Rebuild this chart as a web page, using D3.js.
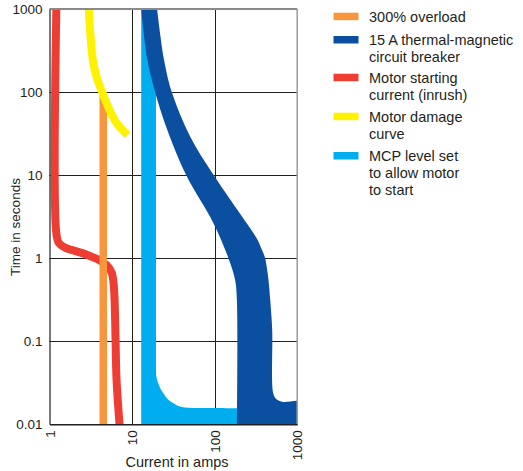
<!DOCTYPE html>
<html>
<head>
<meta charset="utf-8">
<script src="https://cdn.jsdelivr.net/npm/d3@7"></script>
<style>
  html, body { margin: 0; padding: 0; background: #fff; }
  svg { display: block; }
  text { font-family: "Liberation Sans", Arial, Helvetica, sans-serif; fill: #231f20; }
</style>
</head>
<body>
<svg id="chart" width="523" height="471"></svg>
<script>
// ---------- DATA ----------
const currentTicks = [1, 10, 100, 1000];
const currentTickLabels = ["1", "10", "100", "1000"];
const timeTicks = [0.01, 0.1, 1, 10, 100, 1000];
const timeTickLabels = ["0.01", "0.1", "1", "10", "100", "1000"];

const seriesNames = [
  ["300% overload"],
  ["15 A thermal-magnetic", "circuit breaker"],
  ["Motor starting", "current (inrush)"],
  ["Motor damage", "curve"],
  ["MCP level set", "to allow motor", "to start"]
];
const seriesColors = ["#F7963C", "#0B4FA0", "#EE3E33", "#FFF200", "#00AEEF"];

// 300% overload (vertical line)
const overloadCurrent = [4.48, 4.48];
const overloadTime = [100, 0.01];

// 15 A thermal-magnetic breaker band: lower-current edge (top to bottom)
const breakerLowCurrent = [12.9, 15.3, 19.0, 25.8, 45.2, 96.7, 147, 177, 186, 186];
const breakerLowTime    = [1000, 245, 100, 38.5, 10, 2.64, 1, 0.548, 0.315, 0.01];
// higher-current edge (top to bottom)
const breakerHighCurrent = [20.1, 24.4, 30.3, 50.5, 96.7, 245, 289, 332, 374, 409, 433, 449, 471, 498, 512, 556, 676, 1100, 1100];
const breakerHighTime    = [1000, 245, 100, 29.2, 10.1, 2.64, 2.07, 1.66, 1.26, 1, 0.722, 0.548, 0.315, 0.137, 0.0238, 0.0202, 0.0186, 0.0186, 0.01];

// Motor starting current (inrush)
const inrushCurrent = [1.21, 1.21, 1.30, 1.59, 1.90, 2.51, 3.32, 4.04, 4.91, 5.64, 5.97, 6.14, 6.31, 6.49, 7.05];
const inrushTime    = [1000, 2.0, 1.52, 1.32, 1.25, 1.15, 1.03, 0.946, 0.824, 0.678, 0.5, 0.312, 0.103, 0.034, 0.01];

// Motor damage curve
const damageCurrent = [2.99, 3.12, 3.35, 3.71, 4.39, 5.34, 6.49, 8.82];
const damageTime    = [1000, 514, 243, 152, 97, 60.7, 42.4, 30.3];

// MCP level band (time, low current, high current)
const mcpTime = [1000, 0.0415, 0.0315, 0.0238, 0.0181, 0.0162, 0.0157, 0.0156, 0.01];
const mcpLow  = [12.9, 12.9, 12.9, 12.9, 12.9, 12.9, 12.9, 12.9, 12.9];
const mcpHigh = [19.5, 19.5, 20.7, 23.8, 31.4, 40.4, 58, 250, 250];

// ---------- LAYOUT ----------
const svg = d3.select("#chart");
const pLeft = 49.5, pRight = 297.2, pTop = 9, pBottom = 424.3;

const x = d3.scaleLog().domain([1, 1000]).range([pLeft, pRight]);
const y = d3.scaleLog().domain([0.01, 1000]).range([pBottom, pTop]);

svg.append("rect").attr("width", 523).attr("height", 471).attr("fill", "#fff");

svg.append("defs").append("clipPath").attr("id", "plotclip")
  .append("rect").attr("x", pLeft).attr("y", pTop).attr("width", pRight - pLeft).attr("height", pBottom - pTop);

// gridlines
const grid = svg.append("g");
grid.selectAll("line.h").data(timeTicks.filter(t => t > 0.01 && t < 1000)).join("line")
  .attr("x1", pLeft).attr("x2", pRight)
  .attr("y1", d => Math.round(y(d)) + 0.5).attr("y2", d => Math.round(y(d)) + 0.5)
  .attr("stroke", "#231f20").attr("stroke-width", 1);
grid.selectAll("line.v").data(currentTicks.filter(t => t > 1 && t < 1000)).join("line")
  .attr("y1", pTop).attr("y2", pBottom)
  .attr("x1", d => Math.round(x(d)) + 0.5).attr("x2", d => Math.round(x(d)) + 0.5)
  .attr("stroke", "#231f20").attr("stroke-width", 1);

const plot = svg.append("g").attr("clip-path", "url(#plotclip)");

// MCP band
const mcpRows = mcpTime.map((t, i) => ({ t, lo: mcpLow[i], hi: mcpHigh[i] }));
plot.append("path")
  .attr("d", d3.area().y(d => y(d.t)).x0(d => x(d.lo)).x1(d => x(d.hi)).curve(d3.curveMonotoneY)(mcpRows))
  .attr("fill", seriesColors[4]);

// Breaker band: left edge down, right edge back up
const edge = d3.line().x(d => x(d.c)).y(d => y(d.t)).curve(d3.curveCatmullRom.alpha(0.5));
const lowPts = breakerLowCurrent.map((c, i) => ({ c, t: breakerLowTime[i] }));
const highPts = breakerHighCurrent.map((c, i) => ({ c, t: breakerHighTime[i] })).reverse();
const bandPath = edge(lowPts) + "L" + edge(highPts).slice(1) + "Z";
plot.append("path").attr("d", bandPath).attr("fill", seriesColors[1]);

// Inrush
const inrushRows = inrushCurrent.map((c, i) => ({ c, t: inrushTime[i] }));
plot.append("path")
  .attr("d", d3.line().x(d => x(d.c)).y(d => y(d.t)).curve(d3.curveCatmullRom.alpha(0.5))(inrushRows))
  .attr("fill", "none").attr("stroke", seriesColors[2]).attr("stroke-width", 8);

// Overload
const overRows = overloadCurrent.map((c, i) => ({ c, t: overloadTime[i] }));
plot.append("path")
  .attr("d", d3.line().x(d => x(d.c)).y(d => y(d.t))(overRows))
  .attr("fill", "none").attr("stroke", seriesColors[0]).attr("stroke-width", 7.5);

// Damage curve
const dmgRows = damageCurrent.map((c, i) => ({ c, t: damageTime[i] }));
plot.append("path")
  .attr("d", d3.line().x(d => x(d.c)).y(d => y(d.t)).curve(d3.curveCatmullRom.alpha(0.5))(dmgRows))
  .attr("fill", "none").attr("stroke", seriesColors[3]).attr("stroke-width", 8);

// borders
svg.append("line").attr("x1", pLeft).attr("x2", pRight).attr("y1", pTop).attr("y2", pTop)
  .attr("stroke", "#8a8a8a").attr("stroke-width", 2);
svg.append("line").attr("x1", pRight).attr("x2", pRight).attr("y1", pTop).attr("y2", pBottom)
  .attr("stroke", "#9a9a9a").attr("stroke-width", 1.5);

// Y axis
const yAxis = svg.append("g").attr("transform", `translate(${pLeft},0)`)
  .call(d3.axisLeft(y).tickValues(timeTicks).tickSize(0).tickPadding(7)
    .tickFormat((d, i) => timeTickLabels[i]));
yAxis.select(".domain").attr("stroke", "#231f20").attr("stroke-width", 1.2);
yAxis.selectAll("text").style("font-size", "13.5px").attr("fill", "#231f20")
  .style("font-family", '"Liberation Sans", Arial, sans-serif');

// X axis
const xAxis = svg.append("g").attr("transform", `translate(0,${pBottom})`)
  .call(d3.axisBottom(x).tickValues(currentTicks).tickSize(0)
    .tickFormat((d, i) => currentTickLabels[i]));
xAxis.select(".domain").attr("stroke", "#231f20").attr("stroke-width", 1.5);
xAxis.selectAll("text")
  .attr("transform", "rotate(-90)")
  .attr("x", -6).attr("y", 0).attr("dy", "0.35em")
  .attr("text-anchor", "end")
  .style("font-size", "13.5px").attr("fill", "#231f20")
  .style("font-family", '"Liberation Sans", Arial, sans-serif');

// Axis titles
svg.append("text")
  .attr("transform", `translate(20,227) rotate(-90)`)
  .attr("text-anchor", "middle")
  .style("font-size", "13.5px")
  .text("Time in seconds");
svg.append("text")
  .attr("x", 177).attr("y", 467)
  .attr("text-anchor", "middle")
  .style("font-size", "14.5px")
  .text("Current in amps");

// Legend
const legendBaselines = [21.7, 45, 82.7, 121.7, 161];
const lineH = 17.2;
const lg = svg.append("g");
seriesNames.forEach((lines, i) => {
  const b = legendBaselines[i];
  lg.append("rect").attr("x", 333.5).attr("y", b - 9).attr("width", 25).attr("height", 7.5)
    .attr("fill", seriesColors[i]);
  lines.forEach((ln, j) => {
    lg.append("text").attr("x", 369).attr("y", b + j * lineH)
      .style("font-size", "14.5px").text(ln);
  });
});
</script>
</body>
</html>
